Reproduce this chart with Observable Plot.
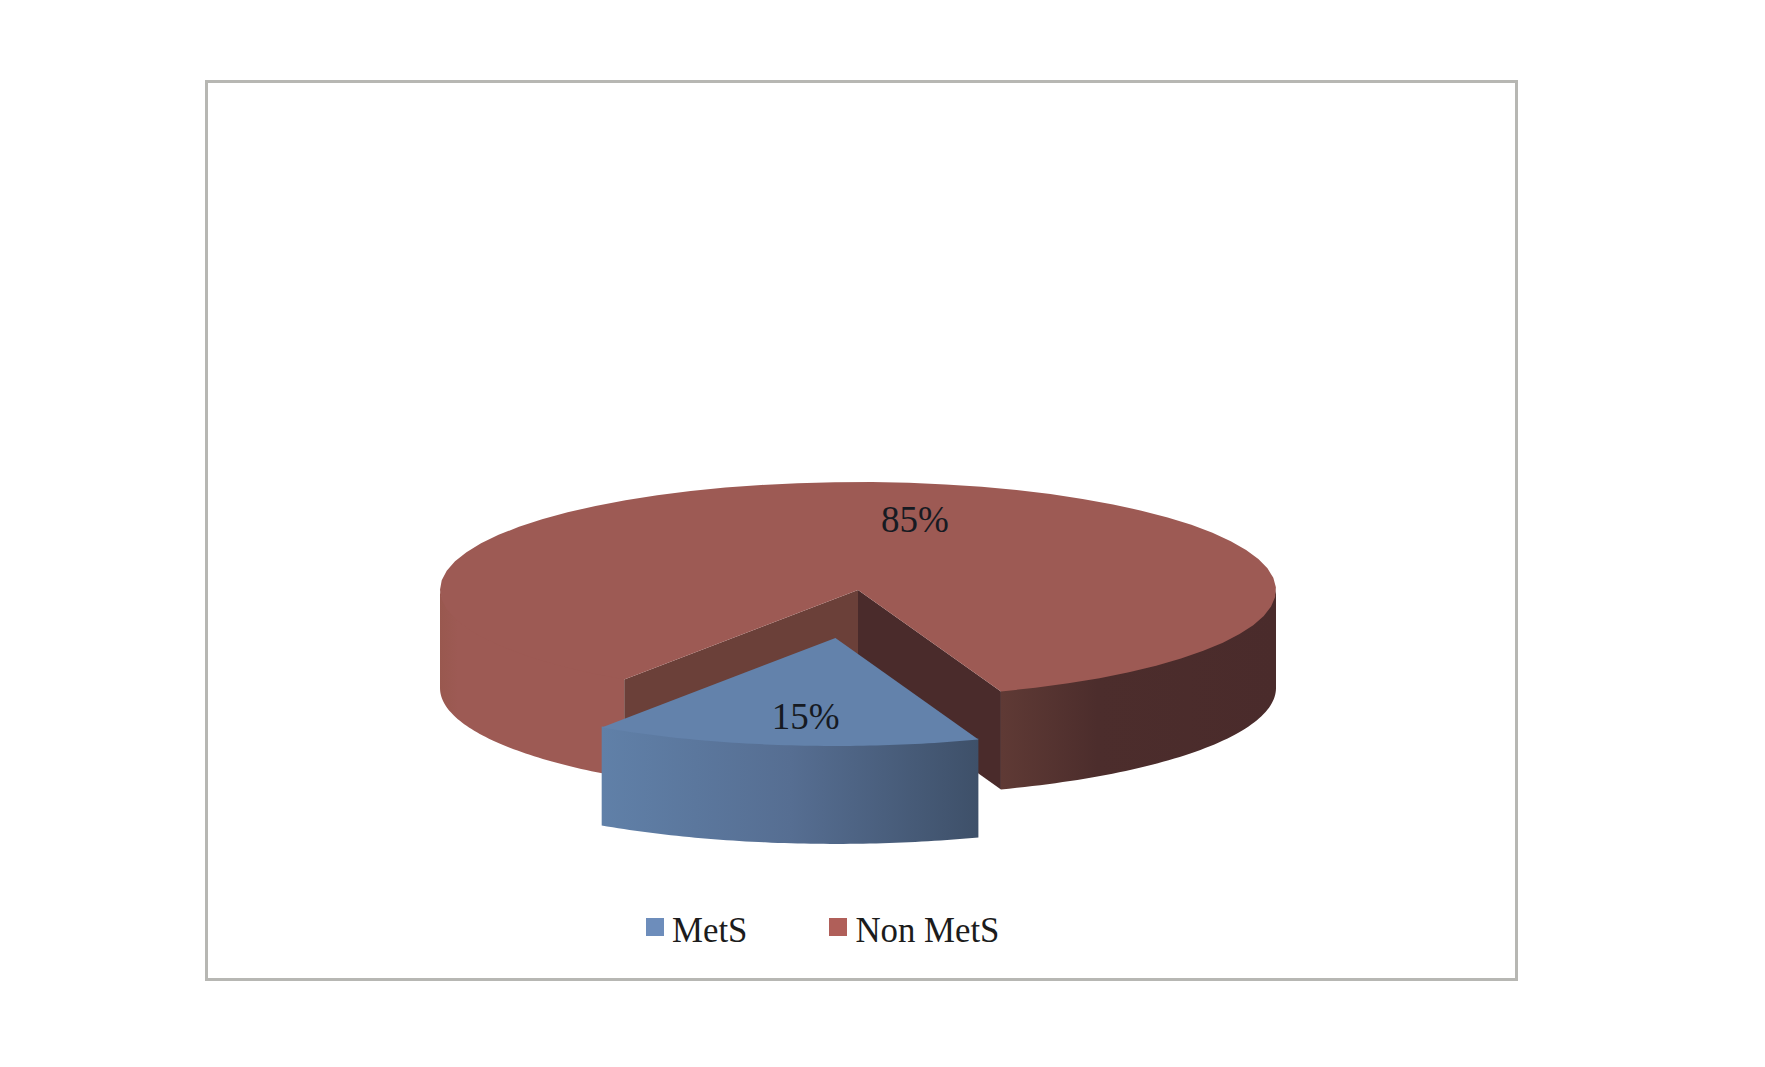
<!DOCTYPE html>
<html>
<head>
<meta charset="utf-8">
<script src="https://cdn.jsdelivr.net/npm/d3@7"></script>
<script src="https://cdn.jsdelivr.net/npm/@observablehq/plot@0.6"></script>
<style>
  html, body { margin: 0; padding: 0; background: #fff; }
  #frame { position: absolute; left: 205px; top: 80px; width: 1307px; height: 895px; border: 3px solid #b7b7b3; background: #fff; }
  #frame svg { display: block; }
  #legend { position: absolute; left: 438px; top: 824.5px; height: 46px; display: flex; align-items: center; font: 34.8px "Liberation Serif", serif; color: #1c1c1c; }
  #legend .sw { width: 18px; height: 18px; display: inline-block; margin-right: 8px; position: relative; top: -4px; }
  #legend .item { display: flex; align-items: center; margin-right: 82px; white-space: nowrap; }
</style>
</head>
<body>
<div id="frame"></div>
<script>
// Data
const categories = ["MetS", "Non MetS"];
const values = [15, 85];
const labels = ["15%", "85%"];
const labelX = [-0.125, 0.136];
const labelY = [1.176, -0.648];
const legendColors = ["#6d8dbb", "#b05f59"];

// Pie appearance
const startAngle = -34;          // degrees from the front of the pie
const depth = 0.907;             // wall height, in vertical radii
const explode = {dx: -0.054, dy: 0.444};
const topColors = ["#6382ab", "#9d5a54"];
const cutColors = {left: "#6b4039", right: "#4a2b2b"};

const W = 1307, H = 815;
const rx = 418, ry = 108, cx = 649.5, cy = 506.5;

const rad = d => d * Math.PI / 180;
const pt = (t, ox = 0, oy = 0, dz = 0) => ({x: ox + Math.sin(rad(t)), y: oy + Math.cos(rad(t)) + dz});
const arc = (a, b, ox, oy, dz) => d3.range(0, 61).map(i => pt(a + (b - a) * i / 60, ox, oy, dz));

const total = d3.sum(values);
const sweep = values[0] / total * 360;
const a0 = startAngle, a1 = startAngle + sweep;

// Top faces
const bigTop = [{x: 0, y: 0}, ...arc(a1, a0 + 360)];
const blueTop = [{x: explode.dx, y: explode.dy}, ...arc(a0, a1, explode.dx, explode.dy)];

// Outer walls: the upper edge is raised slightly under the top face so that no seam shows
const wall = (a, b, ox = 0, oy = 0, tuck = 0.03) => [...arc(a, b, ox, oy, -tuck), ...arc(a, b, ox, oy, depth).reverse()];
const wallRight = wall(a1, 90);
const wallLeft = wall(-90, a0);
const wallBlue = wall(a0, a1, explode.dx, explode.dy, 0.01);

// Cut faces of the gap left by the exploded slice
const cut = a => { const p = pt(a); return [{x: 0, y: 0}, p, {x: p.x, y: p.y + depth}, {x: 0, y: depth}]; };

const poly = (data, fill) => Plot.line(data, {x: "x", y: "y", fill, stroke: "none", curve: "linear"});

const labelRows = labels.map((text, i) => ({text, x: labelX[i], y: labelY[i], i}));

const chart = Plot.plot({
  width: W,
  height: H,
  margin: 0,
  style: {background: "#fff"},
  x: {axis: null, domain: [-cx / rx, (W - cx) / rx], range: [0, W]},
  y: {axis: null, domain: [-cy / ry, (H - cy) / ry], range: [0, H]},
  marks: [
    poly(wallLeft, "url(#gradLeft)"),
    poly(wallRight, "url(#gradRight)"),
    poly(cut(a0), cutColors.left),
    poly(cut(a1), cutColors.right),
    poly(bigTop, topColors[1]),
    poly(wallBlue, "url(#gradBlue)"),
    poly(blueTop, topColors[0]),
    Plot.text(labelRows, {
      x: "x", y: "y", text: "text",
      fontFamily: "Liberation Serif, serif",
      fontSize: 37,
      fill: "#161a22",
      textAnchor: "middle",
      lineAnchor: "middle"
    })
  ]
});

// Horizontal shading of the walls
const gradients = {
  gradLeft: [[0, "#99584f"], [0.1, "#9d5a54"], [1, "#9d5a54"]],
  gradRight: [[0, "#5f3a35"], [0.35, "#4c2d2c"], [1, "#4a2b2b"]],
  gradBlue: [[0, "#6080a8"], [0.5, "#566e92"], [1, "#3e5069"]]
};
const defs = d3.select(chart).insert("defs", ":first-child");
for (const [id, stops] of Object.entries(gradients)) {
  const g = defs.append("linearGradient").attr("id", id).attr("x1", 0).attr("x2", 1).attr("y1", 0).attr("y2", 0);
  for (const [o, c] of stops) g.append("stop").attr("offset", o).attr("stop-color", c);
}

const frame = document.getElementById("frame");
frame.appendChild(chart);

// Legend below the SVG, inside the border
const legend = document.createElement("div");
legend.id = "legend";
categories.forEach((name, i) => {
  const item = document.createElement("div");
  item.className = "item";
  const sw = document.createElement("span");
  sw.className = "sw";
  sw.style.background = legendColors[i];
  const tx = document.createElement("span");
  tx.textContent = name;
  item.append(sw, tx);
  legend.appendChild(item);
});
frame.appendChild(legend);
</script>
</body>
</html>
